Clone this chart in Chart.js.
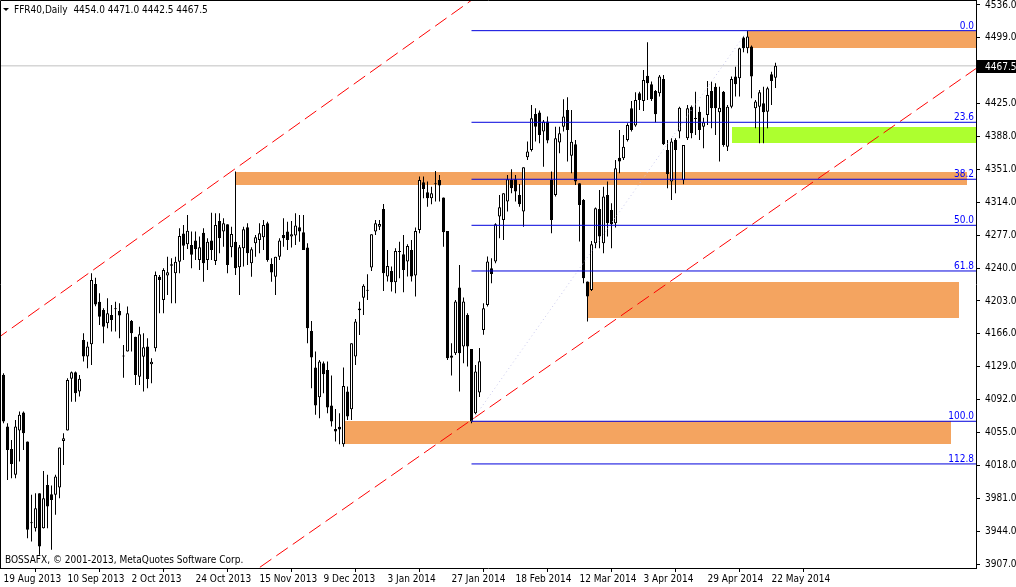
<!DOCTYPE html>
<html>
<head>
<meta charset="utf-8">
<script src="https://cdn.jsdelivr.net/npm/chart.js@4.4.1/dist/chart.umd.min.js"></script>
<style>
html, body { margin: 0; padding: 0; background: #fff; }
canvas { display: block; }
</style>
</head>
<body>
<canvas id="chart" width="1016" height="587"></canvas>
<script>
// FFR40 daily bars, index 0 = 19 Aug 2013
const opens = [4119.8,4061.6,4036.5,4007.3,4057.1,4077.4,4044.8,3952.9,3947.3,3986.6,3947.3,3996.0,3985.5,3984.8,3993.0,4045.5,4057.1,4115.3,4122.8,4101.0,
  4159.1,4140.4,4154.2,4222.0,4202.2,4192.8,4177.8,4187.2,4193.5,4191.7,4141.5,4146.0,4180.4,4162.8,4117.8,4140.3,4151.6,4131.7,4149.7,4230.3,
  4204.0,4231.5,4244.2,4234.1,4247.2,4279.0,4266.7,4266.0,4270.9,4249.1,4279.8,4249.1,4270.9,4248.0,4293.0,4281.0,4289.2,4263.4,4269.7,4240.9,
  4262.2,4285.8,4245.3,4267.9,4271.6,4274.6,4290.4,4244.6,4230.3,4252.8,4277.2,4281.0,4275.4,4276.5,4285.9,4280.2,4263.0,4169.3,4128.0,4094.6,
  4132.9,4125.4,4085.3,4059.0,4061.3,4041.7,4101.0,4081.1,4140.4,4194.5,4206.7,4215.5,4240.5,4281.0,4286.6,4306.5,4230.4,4236.8,4224.0,4258.0,
  4255.5,4247.3,4260.4,4231.5,4282.9,4336.5,4325.3,4318.5,4335.4,4339.1,4319.3,4281.8,4141.5,4144.1,4218.0,4151.6,4187.3,4149.0,4076.6,4100.0,
  4170.4,4198.5,4239.8,4247.3,4297.9,4294.1,4314.8,4339.1,4339.9,4322.3,4303.5,4364.6,4372.9,4413.4,4414.9,4393.5,4404.8,4339.1,4322.3,4381.2,
  4399.1,4417.9,4366.3,4379.3,4335.4,4316.6,4224.8,4215.4,4267.9,4306.5,4267.9,4322.3,4305.4,4290.4,4364.2,4363.5,4384.1,4419.8,4400.3,4436.6,
  4428.0,4456.5,4446.8,4439.3,4436.6,4452.8,4372.9,4337.3,4384.1,4393.5,4338.8,4386.0,4421.6,4408.5,4416.0,4399.1,4412.3,4439.3,4444.1,4415.3,
  4438.5,4376.6,4421.6,4455.4,4453.5,4499.3,4487.3,4489.2,4419.8,4421.6,4425.4,4416.0,4458.0,4454.0];
const highs = [4121.6,4065.4,4046.6,4069.1,4078.5,4078.5,4044.8,3984.8,3986.6,3986.6,4011.7,4007.3,3995.2,4007.3,4038.0,4054.0,4116.0,4123.5,4123.5,4119.7,
  4166.6,4157.2,4234.1,4229.0,4211.6,4194.7,4206.0,4198.5,4202.2,4200.3,4153.5,4196.6,4181.6,4162.8,4174.0,4166.6,4161.0,4138.5,4236.0,4232.2,
  4239.7,4252.8,4251.0,4252.8,4284.7,4288.5,4299.7,4281.0,4281.0,4275.4,4284.7,4273.5,4302.3,4301.6,4301.6,4296.0,4289.2,4286.6,4348.5,4266.0,
  4286.6,4290.4,4263.4,4277.2,4290.4,4294.1,4292.2,4251.0,4252.8,4273.5,4296.0,4292.2,4293.0,4301.6,4299.7,4299.7,4267.9,4180.5,4146.0,4136.6,
  4134.8,4134.8,4119.0,4081.5,4076.6,4128.0,4106.6,4155.4,4182.8,4202.2,4221.7,4233.0,4278.0,4294.1,4294.1,4312.0,4260.4,4241.6,4262.3,4269.7,
  4277.3,4266.8,4271.6,4285.5,4342.9,4342.9,4337.3,4331.6,4349.3,4344.8,4319.3,4281.8,4155.4,4204.1,4243.5,4206.8,4189.2,4149.0,4131.0,4150.0,
  4200.4,4252.9,4251.0,4290.4,4322.3,4324.1,4344.8,4351.1,4344.8,4334.6,4353.4,4382.3,4423.5,4419.8,4417.2,4406.7,4410.4,4348.5,4399.1,4399.1,
  4429.9,4432.2,4417.9,4384.1,4335.4,4317.8,4224.8,4270.5,4308.0,4327.9,4331.6,4337.3,4312.9,4361.6,4395.4,4389.8,4402.9,4428.0,4437.8,4438.5,
  4462.9,4494.0,4449.8,4440.4,4457.3,4457.3,4384.1,4386.0,4386.0,4421.6,4378.5,4423.5,4422.8,4438.5,4421.6,4409.2,4450.5,4449.8,4447.9,4444.1,
  4439.3,4423.5,4455.4,4466.6,4488.0,4500.4,4506.7,4490.3,4429.1,4440.4,4444.1,4444.1,4461.0,4471.0];
const lows = [4065.4,4001.6,4003.5,4003.5,4022.3,4035.4,3936.0,3932.3,3943.5,3917.3,3947.0,3947.3,3922.9,3962.3,3981.0,4018.5,4057.1,4089.7,4089.7,4095.4,
  4134.8,4127.2,4131.0,4197.0,4176.0,4155.3,4172.2,4168.5,4168.5,4161.0,4116.7,4146.0,4146.0,4108.5,4108.5,4101.0,4104.7,4110.3,4146.0,4189.0,
  4189.0,4209.7,4200.3,4200.3,4234.1,4249.1,4261.5,4239.7,4249.1,4237.8,4224.7,4237.8,4249.1,4243.5,4256.6,4264.1,4234.1,4252.1,4232.2,4209.7,
  4241.6,4243.5,4230.3,4252.8,4256.6,4260.4,4247.2,4224.7,4209.7,4249.1,4264.1,4260.4,4263.0,4266.0,4269.7,4260.4,4155.4,4104.8,4074.8,4071.0,
  4099.1,4076.6,4061.6,4044.8,4041.7,4039.0,4069.0,4069.0,4131.0,4164.8,4187.3,4204.1,4236.8,4277.2,4282.9,4214.3,4224.8,4213.5,4211.6,4228.5,
  4212.8,4230.4,4224.8,4207.9,4279.1,4318.5,4309.1,4311.8,4314.8,4314.8,4264.1,4136.6,4119.0,4142.3,4101.0,4132.9,4129.1,4065.4,4075.5,4095.0,
  4165.0,4196.6,4222.9,4245.4,4273.5,4271.6,4303.5,4324.1,4314.8,4309.1,4286.6,4361.7,4371.0,4382.3,4380.4,4354.1,4380.4,4279.1,4320.4,4369.1,
  4393.5,4359.8,4346.6,4333.5,4269.8,4222.9,4179.8,4214.3,4262.2,4262.2,4256.6,4275.4,4262.2,4285.5,4346.6,4361.6,4382.3,4393.5,4399.1,4417.9,
  4416.8,4429.1,4428.0,4404.0,4432.9,4378.5,4329.8,4316.6,4324.1,4386.0,4334.2,4384.1,4386.0,4389.8,4384.1,4374.8,4401.0,4397.3,4389.8,4359.8,
  4376.6,4371.7,4419.8,4432.9,4432.9,4482.8,4481.6,4431.0,4397.3,4380.4,4380.4,4397.3,4423.5,4442.5];
const closes = [4067.3,4035.4,4019.6,4061.6,4074.8,4054.1,3945.4,3952.9,3969.8,3926.6,3981.0,3971.6,3979.1,4005.4,4038.0,4048.5,4114.1,4122.8,4099.1,4115.3,
  4140.4,4151.6,4226.6,4199.0,4185.3,4174.0,4189.0,4181.6,4194.5,4186.5,4140.5,4189.0,4166.6,4119.7,4165.5,4150.8,4115.2,4134.7,4232.2,4226.6,
  4237.8,4235.2,4242.7,4247.2,4276.0,4265.2,4282.0,4255.0,4261.1,4263.4,4245.3,4269.7,4260.4,4288.5,4273.5,4290.4,4243.5,4278.4,4239.7,4263.4,
  4283.6,4256.6,4261.1,4274.6,4279.1,4288.5,4249.1,4234.9,4252.8,4270.9,4273.5,4271.6,4278.0,4287.8,4281.0,4260.4,4172.3,4139.3,4085.3,4134.8,
  4120.5,4083.0,4067.3,4056.0,4058.3,4107.4,4072.9,4155.4,4179.8,4192.5,4220.2,4214.5,4278.0,4290.4,4289.6,4234.1,4242.4,4224.0,4259.3,4259.0,
  4237.9,4264.9,4230.4,4281.8,4339.1,4329.0,4318.5,4324.1,4334.2,4332.8,4280.3,4138.5,4139.2,4202.3,4144.1,4202.3,4151.6,4067.3,4123.5,4135.0,
  4194.8,4247.3,4233.4,4289.3,4308.4,4324.1,4339.9,4329.8,4326.0,4311.8,4353.4,4371.0,4408.5,4399.1,4389.8,4404.8,4383.4,4294.1,4386.0,4391.7,
  4410.4,4395.4,4382.0,4337.3,4311.0,4228.5,4207.9,4266.8,4307.3,4275.4,4320.4,4290.4,4289.3,4352.3,4359.8,4376.6,4401.0,4395.4,4429.1,4429.1,
  4451.6,4447.9,4430.3,4413.0,4455.4,4379.3,4345.7,4382.3,4372.9,4420.5,4378.5,4419.8,4391.6,4407.8,4395.4,4404.0,4434.8,4419.8,4419.8,4420.5,
  4378.5,4421.6,4452.8,4446.8,4487.3,4487.3,4500.4,4455.4,4427.3,4437.8,4415.3,4442.3,4450.5,4467.5];

// time axis labels (every 16 bars)
const dateTicks = [0, 16, 32, 48, 64, 80, 96, 112, 128, 144, 160, 176, 192];
const dateLabels = ['19 Aug 2013', '10 Sep 2013', '2 Oct 2013', '24 Oct 2013', '15 Nov 2013', '9 Dec 2013', '3 Jan 2014',
  '27 Jan 2014', '18 Feb 2014', '12 Mar 2014', '3 Apr 2014', '29 Apr 2014', '22 May 2014'];

// price axis
const priceTicks = [3907, 3944, 3981, 4018, 4055, 4092, 4129, 4166, 4203, 4240, 4277, 4314, 4351, 4388, 4425, 4462, 4499, 4536];
const lastPrice = 4467.5;

// fibonacci retracement (27 Jan low -> May high)
const fibLevels = ['0.0', '23.6', '38.2', '50.0', '61.8', '100.0', '112.8'];
const fibPrices = [4507.1, 4404.0, 4339.9, 4288.1, 4236.7, 4067.6, 4019.6];
const fibFrom = 117;
const fibTrend = [{x: 117, y: 4067.6}, {x: 186, y: 4507.1}];

// channel lines
const channelUpper = [{x: -2, y: 4159.4}, {x: 125, y: 4567.0}];
const channelLower = [{x: 60, y: 3890.5}, {x: 246, y: 4473.5}];

// marked zones: bar from / to, price top / bottom
const zoneFrom = [58, 186, 182, 146, 85.4];
const zoneTo = [240.9, 250, 250, 238.8, 236.8];
const zoneTop = [4347.8, 4507.1, 4398.7, 4224.4, 4067.6];
const zoneBottom = [4333.5, 4488.0, 4381.1, 4184.2, 4042.4];
const zoneFill = ['#f4a460', '#f4a460', '#adff2f', '#f4a460', '#f4a460'];

const FONT = 'Tahoma, "DejaVu Sans Condensed", "Liberation Sans", sans-serif';

const idx = opens.map((_, i) => i);
const wickData = idx.map(i => ({x: i, y: [lows[i], highs[i]]}));
const bodyData = idx.map(i => ({x: i, y: [opens[i], closes[i]]}));

function hLine(price, from, to) {
    return [{x: from, y: price}, {x: to, y: price}];
}

const lineSets = [];
lineSets.push({type: 'line', data: hLine(lastPrice, -2, 250), borderColor: '#c0c0c0', borderWidth: 1, pointRadius: 0, order: 5});
fibPrices.forEach(p => {
    lineSets.push({type: 'line', data: hLine(p, fibFrom, 250), borderColor: '#0000dd', borderWidth: 1, pointRadius: 0, order: 1});
});
lineSets.push({type: 'line', data: fibTrend, borderColor: '#c8c8ec', borderWidth: 1, borderDash: [1, 3], pointRadius: 0, order: 1});
lineSets.push({type: 'line', data: channelUpper, borderColor: '#ff0000', borderWidth: 1, borderDash: [14, 6], pointRadius: 0, order: 1});
lineSets.push({type: 'line', data: channelLower, borderColor: '#ff0000', borderWidth: 1, borderDash: [14, 6], pointRadius: 0, order: 1});

const drawings = {
    id: 'drawings',
    beforeDatasetsDraw(chart) {
        const {ctx, chartArea: a, scales: {x, y}} = chart;
        ctx.save();
        ctx.beginPath();
        ctx.rect(a.left, a.top, a.right - a.left, a.bottom - a.top);
        ctx.clip();
        zoneFrom.forEach((f, k) => {
            const x0 = Math.round(x.getPixelForValue(f));
            const x1 = Math.round(x.getPixelForValue(zoneTo[k]));
            const y0 = Math.round(y.getPixelForValue(zoneTop[k]));
            const y1 = Math.round(y.getPixelForValue(zoneBottom[k]));
            ctx.fillStyle = zoneFill[k];
            ctx.fillRect(x0, y0, x1 - x0, y1 - y0);
        });
        ctx.restore();
    },
    afterDatasetsDraw(chart) {
        const {ctx, chartArea: a, scales: {y}} = chart;
        ctx.save();
        // frame
        ctx.strokeStyle = '#000';
        ctx.lineWidth = 1;
        ctx.beginPath();
        ctx.moveTo(0.5, a.bottom);
        ctx.lineTo(0.5, 0.5);
        ctx.lineTo(a.right, 0.5);
        ctx.stroke();

        // fib level labels
        ctx.font = '10px ' + FONT;
        ctx.fillStyle = '#0000ff';
        ctx.textAlign = 'right';
        ctx.textBaseline = 'bottom';
        fibPrices.forEach((p, k) => {
            ctx.fillText(fibLevels[k], a.right - 2, Math.round(y.getPixelForValue(p)));
        });

        // header
        const n = opens.length - 1;
        ctx.fillStyle = '#000';
        ctx.textAlign = 'left';
        ctx.textBaseline = 'middle';
        ctx.beginPath();
        ctx.moveTo(3, 8); ctx.lineTo(9, 8); ctx.lineTo(6, 11); ctx.closePath();
        ctx.fill();
        ctx.font = '10px ' + FONT;
        ctx.fillText('FFR40,Daily  ' + [opens[n], highs[n], lows[n], closes[n]].map(v => v.toFixed(1)).join(' '), 14, 10);
        ctx.fillText('BOSSAFX, \u00a9 2001-2013, MetaQuotes Software Corp.', 5, 560);

        // last price tag on the axis
        const py = Math.round(y.getPixelForValue(lastPrice));
        ctx.fillStyle = '#000';
        ctx.fillRect(a.right + 1, py - 6, 1016 - a.right, 13);
        ctx.fillStyle = '#fff';
        ctx.fillText(lastPrice.toFixed(1), a.right + 9, py + 1);
        ctx.restore();
    }
};

new Chart(document.getElementById('chart'), {
    type: 'bar',
    data: {
        datasets: [
            {
                data: bodyData,
                barThickness: 3,
                backgroundColor: c => closes[c.dataIndex] > opens[c.dataIndex] ? '#ffffff' : '#000000',
                borderColor: '#000',
                borderWidth: 1,
                borderSkipped: false,
                inflateAmount: 0,
                minBarLength: 1,
                grouped: false,
                order: 3
            },
            {
                data: wickData,
                barThickness: 1,
                backgroundColor: '#000',
                borderWidth: 0,
                inflateAmount: 0,
                grouped: false,
                order: 4
            },
            ...lineSets
        ]
    },
    options: {
        responsive: false,
        animation: false,
        devicePixelRatio: 1,
        layout: { padding: 0 },
        plugins: { legend: { display: false }, tooltip: { enabled: false } },
        scales: {
            x: {
                type: 'linear',
                position: 'bottom',
                min: -0.875,
                max: 243.125,
                offset: false,
                grid: { drawOnChartArea: false, drawTicks: true, tickLength: 4, color: '#000' },
                border: { display: true, color: '#000' },
                afterBuildTicks: s => { s.ticks = dateTicks.map(v => ({value: v})); },
                afterFit: s => { s.height = 19; s.paddingLeft = 0; s.paddingRight = 0; },
                ticks: {
                    align: 'start',
                    padding: 1,
                    autoSkip: false,
                    maxRotation: 0,
                    color: '#000',
                    font: { family: FONT, size: 10 },
                    callback: v => { const k = dateTicks.indexOf(v); return k >= 0 ? dateLabels[k] : ''; }
                }
            },
            y: {
                type: 'linear',
                position: 'right',
                min: 3902.5,
                max: 4541.6,
                grid: { drawOnChartArea: false, drawTicks: true, tickLength: 4, color: '#000' },
                border: { display: true, color: '#000' },
                afterBuildTicks: s => { s.ticks = priceTicks.map(v => ({value: v})); },
                afterFit: s => { s.width = 40; s.paddingTop = 0; s.paddingBottom = 0; },
                ticks: {
                    padding: 5,
                    autoSkip: false,
                    color: '#000',
                    font: { family: FONT, size: 10 },
                    callback: v => v.toFixed(1)
                }
            }
        }
    },
    plugins: [drawings]
});
</script>
</body>
</html>
